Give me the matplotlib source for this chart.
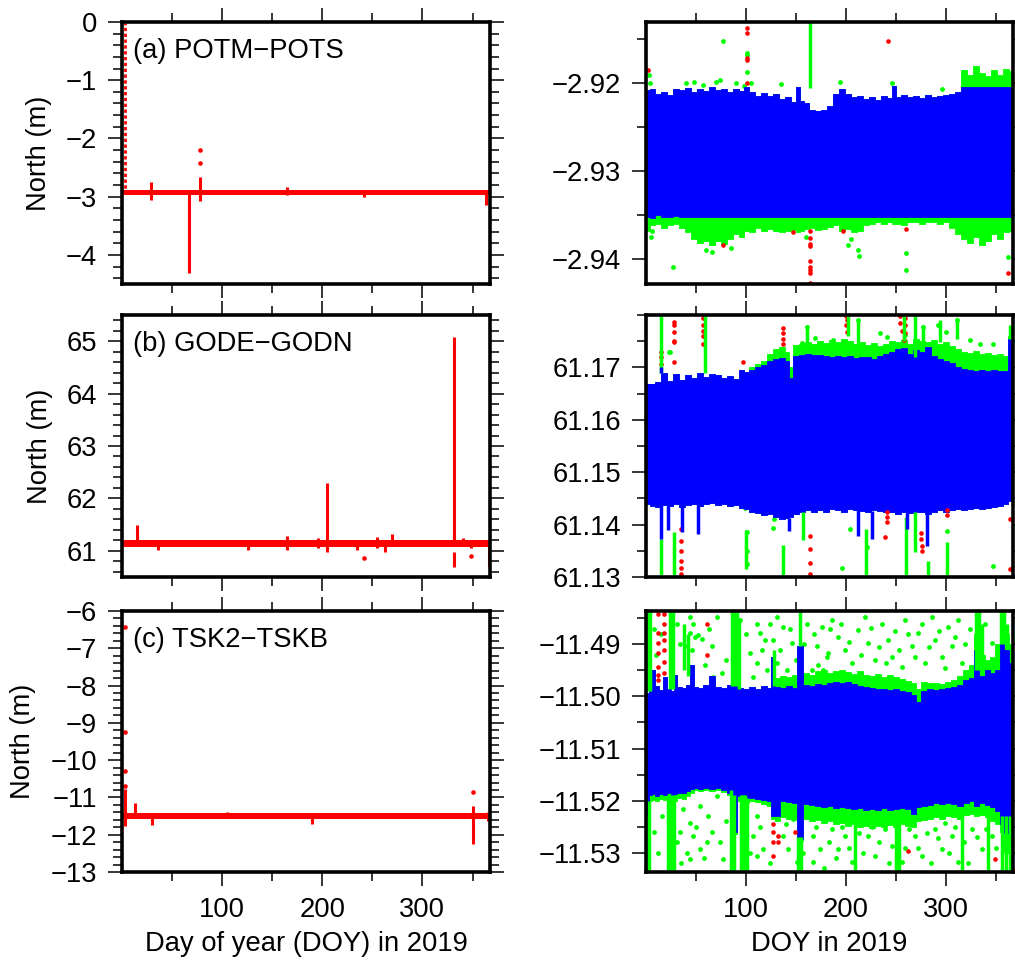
import matplotlib
matplotlib.use('Agg')
import matplotlib.pyplot as plt
from matplotlib.ticker import FixedLocator, FuncFormatter

plt.rcParams['font.family'] = ['Liberation Sans', 'DejaVu Sans']

RED = '#ff0000'
BLUE = '#0000ff'
GREEN = '#00ff00'
FS = 19.7

# ---------------- left column: full range (red) ----------------
span = [1, 366]

a_band = (-2.98, -2.89)
a_spikes = [(29, -3.06, -2.74), (67, -4.31, -2.93), (78, -3.08, -2.66),
            (165, -2.97, -2.84), (242, -3.0, -2.9), (363, -3.15, -2.9)]
a_columns = [(3, -2.95, -0.01)]
a_dots = [(78, -2.2), (78, -2.42)]

b_band = (61.07, 61.21)
b_spikes = [(15, 61.1, 61.49), (36, 61.02, 61.2), (126, 61.02, 61.2), (165, 61.02, 61.28),
            (196, 61.05, 61.25), (205, 60.98, 62.30), (235, 61.02, 61.18), (255, 61.05, 61.27),
            (263, 60.98, 61.2), (270, 61.1, 61.33), (332, 61.15, 65.08), (332, 60.69, 60.98),
            (340, 61.1, 61.25), (348, 61.05, 61.2), (366, 60.7, 61.2)]
b_columns = []
b_dots = [(242, 60.87), (348, 60.9)]

c_band = (-11.59, -11.41)
c_spikes = [(3, -11.77, -10.77), (13, -11.5, -11.16), (30, -11.75, -11.45), (105, -11.5, -11.38),
            (190, -11.7, -11.5), (350, -12.25, -11.23), (365, -11.62, -11.4)]
c_columns = []
c_dots = [(3, -6.43), (3, -9.25), (3, -10.3), (3, -10.7), (350, -10.85)]

# ---------------- right column: zoomed (blue / green / red) ----------------
tr_doy = [1, 6, 12, 18, 24, 30, 36, 42, 48, 54, 60, 66, 72, 78, 84, 90, 96, 101, 106, 112,
          118, 124, 130, 136, 142, 148, 152, 156, 161, 166, 172, 178, 184, 190, 196, 202, 208, 214, 220, 226,
          232, 238, 244, 248, 252, 258, 264, 270, 276, 282, 288, 294, 300, 306, 312, 318, 324, 330, 336, 342,
          348, 354, 360, 366]
tr_blue_top = [-2.9208, -2.9206, -2.9212, -2.9210, -2.9213, -2.9207, -2.9208, -2.9205, -2.9210, -2.9206,
               -2.9209, -2.9204, -2.9208, -2.9206, -2.9210, -2.9207, -2.9209, -2.9204, -2.9210, -2.9214,
               -2.9211, -2.9215, -2.9212, -2.9218, -2.9216, -2.9221, -2.9204, -2.9220, -2.9223, -2.9231,
               -2.9232, -2.9230, -2.9226, -2.9212, -2.9207, -2.9212, -2.9216, -2.9214, -2.9218, -2.9216,
               -2.9219, -2.9214, -2.9217, -2.9203, -2.9216, -2.9213, -2.9216, -2.9214, -2.9217, -2.9213,
               -2.9216, -2.9214, -2.9213, -2.9212, -2.9210, -2.9204, -2.9204, -2.9204, -2.9204, -2.9204,
               -2.9204, -2.9204, -2.9204, -2.9204]
tr_blue_bot = [-2.9352, -2.9354, -2.9350, -2.9352, -2.9353, -2.9351, -2.9353, -2.9352, -2.9353, -2.9352,
               -2.9353, -2.9352, -2.9353, -2.9352, -2.9352, -2.9353, -2.9352, -2.9352, -2.9353, -2.9352,
               -2.9352, -2.9353, -2.9352, -2.9352, -2.9353, -2.9352, -2.9352, -2.9353, -2.9352, -2.9353,
               -2.9352, -2.9353, -2.9352, -2.9352, -2.9353, -2.9352, -2.9352, -2.9353, -2.9352, -2.9352,
               -2.9352, -2.9353, -2.9352, -2.9352, -2.9352, -2.9353, -2.9352, -2.9352, -2.9352, -2.9353,
               -2.9352, -2.9352, -2.9352, -2.9352, -2.9353, -2.9352, -2.9352, -2.9352, -2.9352, -2.9352,
               -2.9352, -2.9352, -2.9352, -2.9352]
tr_green_top = [-2.9208, -2.9206, -2.9212, -2.9210, -2.9213, -2.9207, -2.9208, -2.9205, -2.9210, -2.9206,
                -2.9209, -2.9204, -2.9208, -2.9206, -2.9210, -2.9207, -2.9209, -2.9204, -2.9210, -2.9214,
                -2.9211, -2.9215, -2.9212, -2.9218, -2.9216, -2.9221, -2.9204, -2.9220, -2.9223, -2.9231,
                -2.9232, -2.9230, -2.9226, -2.9212, -2.9207, -2.9212, -2.9216, -2.9214, -2.9218, -2.9216,
                -2.9219, -2.9214, -2.9217, -2.9203, -2.9216, -2.9213, -2.9216, -2.9214, -2.9217, -2.9213,
                -2.9216, -2.9214, -2.9213, -2.9212, -2.9210, -2.9185, -2.9190, -2.9180, -2.9188, -2.9192,
                -2.9185, -2.9190, -2.9184, -2.9186]
tr_green_bot = [-2.9368, -2.9362, -2.9360, -2.9365, -2.9362, -2.9360, -2.9365, -2.9370, -2.9378, -2.9382,
                -2.9380, -2.9385, -2.9380, -2.9383, -2.9378, -2.9372, -2.9375, -2.9368, -2.9370, -2.9365,
                -2.9368, -2.9366, -2.9368, -2.9370, -2.9368, -2.9367, -2.9370, -2.9368, -2.9366, -2.9365,
                -2.9367, -2.9366, -2.9364, -2.9362, -2.9368, -2.9366, -2.9370, -2.9368, -2.9362, -2.9360,
                -2.9358, -2.9360, -2.9358, -2.9360, -2.9360, -2.9362, -2.9358, -2.9358, -2.9360, -2.9358,
                -2.9358, -2.9360, -2.9358, -2.9365, -2.9372, -2.9378, -2.9382, -2.9375, -2.9385, -2.9380,
                -2.9372, -2.9378, -2.9370, -2.9368]
tr_blue_cols = []
tr_green_cols = [(164, -2.9205, -2.9130)]
tr_green_pts = [(77, -2.9152), (101, -2.9165), (101, -2.9168), (101, -2.9187), (27, -2.9410), (260, -2.9394),
                (260, -2.9413), (212, -2.9390), (213, -2.9397), (202, -2.9384), (362, -2.9398), (6, -2.9369),
                (296, -2.9206), (194, -2.9198), (246, -2.9200), (3, -2.9190), (4, -2.9200), (40, -2.9200),
                (48, -2.9198), (57, -2.9202), (70, -2.9199), (74, -2.9196), (90, -2.9200), (98, -2.9203),
                (105, -2.9200), (135, -2.9201), (5, -2.9375), (66, -2.9392), (60, -2.9390), (85, -2.9388),
                (160, -2.9375), (205, -2.9378)]
tr_red_pts = [(101, -2.9137), (101, -2.9143), (101, -2.9171), (101, -2.9173), (101, -2.9200), (242, -2.9152),
              (2, -2.9185), (77, -2.9384), (147, -2.9370), (164, -2.9368), (164, -2.9377), (164, -2.9383),
              (164, -2.9386), (164, -2.9403), (164, -2.9410), (164, -2.9413), (164, -2.9417), (164, -2.9428),
              (197, -2.9369), (362, -2.9417), (260, -2.9366)]

mr_doy = [1, 6, 12, 18, 24, 30, 36, 42, 48, 54, 60, 66, 72, 78, 84, 90, 96, 101, 106, 112,
          118, 124, 130, 136, 142, 145, 150, 156, 162, 168, 174, 180, 186, 192, 198, 204, 210, 216, 222, 228,
          234, 240, 246, 252, 258, 264, 270, 276, 282, 288, 294, 300, 306, 312, 318, 324, 330, 336, 342, 348,
          354, 360, 364, 366]
mr_blue_top = [61.1668, 61.1669, 61.1672, 61.1690, 61.1675, 61.1688, 61.1676, 61.1686, 61.1680, 61.1690,
               61.1682, 61.1687, 61.1685, 61.1680, 61.1684, 61.1678, 61.1695, 61.1692, 61.1696, 61.1700,
               61.1704, 61.1712, 61.1716, 61.1717, 61.1712, 61.1680, 61.1722, 61.1723, 61.1725, 61.1724,
               61.1723, 61.1722, 61.1720, 61.1722, 61.1720, 61.1721, 61.1718, 61.1720, 61.1719, 61.1716,
               61.1722, 61.1725, 61.1730, 61.1735, 61.1737, 61.1725, 61.1733, 61.1730, 61.1738, 61.1722,
               61.1716, 61.1712, 61.1708, 61.1700, 61.1697, 61.1695, 61.1694, 61.1695, 61.1694, 61.1695,
               61.1693, 61.1694, 61.1755, 61.1694]
mr_blue_bot = [61.1440, 61.1436, 61.1434, 61.1438, 61.1436, 61.1440, 61.1434, 61.1438, 61.1440, 61.1436,
               61.1440, 61.1441, 61.1438, 61.1440, 61.1436, 61.1438, 61.1432, 61.1430, 61.1425, 61.1422,
               61.1418, 61.1420, 61.1414, 61.1410, 61.1412, 61.1415, 61.1420, 61.1425, 61.1428, 61.1425,
               61.1428, 61.1425, 61.1430, 61.1428, 61.1425, 61.1430, 61.1428, 61.1426, 61.1424, 61.1428,
               61.1426, 61.1424, 61.1425, 61.1420, 61.1425, 61.1422, 61.1425, 61.1424, 61.1420, 61.1425,
               61.1428, 61.1425, 61.1428, 61.1430, 61.1428, 61.1430, 61.1432, 61.1430, 61.1432, 61.1434,
               61.1436, 61.1440, 61.1445, 61.1445]
mr_green_top = [61.1668, 61.1669, 61.1672, 61.1690, 61.1675, 61.1688, 61.1676, 61.1686, 61.1680, 61.1690,
                61.1682, 61.1687, 61.1685, 61.1680, 61.1684, 61.1678, 61.1695, 61.1692, 61.1700, 61.1706,
                61.1712, 61.1725, 61.1735, 61.1738, 61.1730, 61.1700, 61.1742, 61.1745, 61.1748, 61.1744,
                61.1750, 61.1746, 61.1752, 61.1748, 61.1755, 61.1750, 61.1745, 61.1748, 61.1742, 61.1746,
                61.1740, 61.1745, 61.1750, 61.1748, 61.1752, 61.1745, 61.1755, 61.1750, 61.1748, 61.1752,
                61.1745, 61.1748, 61.1740, 61.1735, 61.1730, 61.1728, 61.1732, 61.1725, 61.1728, 61.1724,
                61.1726, 61.1722, 61.1760, 61.1720]
mr_green_bot = mr_blue_bot
mr_blue_cols = [(15, 61.1372, 61.1440), (22, 61.1390, 61.1436), (36, 61.1385, 61.1434), (52, 61.1382, 61.1440),
                (143, 61.1387, 61.1412), (212, 61.1379, 61.1428), (226, 61.1372, 61.1426), (261, 61.1391, 61.1425),
                (281, 61.1360, 61.1420), (15, 61.1690, 61.1700)]
mr_green_cols = [(15, 61.1300, 61.1372), (15, 61.1690, 61.1800), (28, 61.1300, 61.1385), (59, 61.1690, 61.1800),
                 (100, 61.1315, 61.1390), (137, 61.1300, 61.1362), (157, 61.1370, 61.1425), (161, 61.1749, 61.1780),
                 (202, 61.1760, 61.1800), (212, 61.1742, 61.1793), (220, 61.1300, 61.1392), (258, 61.1750, 61.1800),
                 (260, 61.1300, 61.1415), (269, 61.1720, 61.1800), (269, 61.1347, 61.1425), (277, 61.1749, 61.1780),
                 (282, 61.1300, 61.1330), (294, 61.1749, 61.1790), (301, 61.1300, 61.1366), (311, 61.1755, 61.1794),
                 (364, 61.1755, 61.1780)]
mr_green_pts = [(24, 61.1729), (23, 61.1730), (99, 61.1432), (101, 61.1385), (101, 61.1350), (101, 61.1325),
                (127, 61.1394), (128, 61.1410), (196, 61.1318), (204, 61.1391), (221, 61.1357), (347, 61.1322),
                (301, 61.1388), (156, 61.1747), (149, 61.1713), (161, 61.1778), (169, 61.1756), (234, 61.1765),
                (311, 61.1790), (292, 61.1780), (277, 61.1778), (324, 61.1752), (334, 61.1745), (347, 61.1745),
                (366, 61.1766), (187, 61.1752), (212, 61.1790), (241, 61.1758), (300, 61.1768), (259, 61.1762)]
mr_red_pts = [(28, 61.1786), (28, 61.1780), (28, 61.1767), (28, 61.1751), (28, 61.1748), (28, 61.1710),
              (15, 61.1729), (15, 61.1720), (15, 61.1706),
              (57, 61.1795), (57, 61.1780), (57, 61.1770), (57, 61.1760), (57, 61.1745),
              (35, 61.1391), (35, 61.1369), (35, 61.1350), (35, 61.1331), (35, 61.1318), (35, 61.1305),
              (137, 61.1775), (137, 61.1765), (137, 61.1755), (137, 61.1745), (97, 61.1710),
              (164, 61.1378), (164, 61.1353), (164, 61.1327), (164, 61.1305),
              (200, 61.1799), (201, 61.1790), (200, 61.1780), (201, 61.1768),
              (254, 61.1798), (254, 61.1785), (256, 61.1770), (259, 61.1795), (259, 61.1780), (259, 61.1765),
              (258, 61.1752), (239, 61.1376), (241, 61.1425), (241, 61.1415), (241, 61.1405),
              (275, 61.1384), (275, 61.1372), (276, 61.1360), (276, 61.1350), (301, 61.1428), (301, 61.1418),
              (364, 61.1410), (364, 61.1316)]

br_doy = [1, 4, 7, 11, 15, 19, 23, 27, 29, 33, 38, 43, 46, 50, 55, 60, 66, 72, 78, 84,
          89, 94, 100, 106, 112, 118, 124, 127, 131, 137, 143, 149, 154, 160, 166, 172, 178, 184, 190, 196,
          202, 208, 214, 220, 226, 232, 238, 244, 250, 256, 262, 268, 272, 278, 284, 290, 296, 302, 308, 314,
          320, 326, 331, 336, 342, 347, 352, 356, 361, 366]
br_blue_top = [-11.4994, -11.4990, -11.4949, -11.4980, -11.4987, -11.4962, -11.4985, -11.4990, -11.4959, -11.4981,
               -11.4984, -11.4978, -11.4940, -11.4982, -11.4984, -11.4978, -11.4960, -11.4981, -11.4984, -11.4978,
               -11.4898, -11.4984, -11.4986, -11.4982, -11.4985, -11.4980, -11.4984, -11.4924, -11.4982, -11.4984,
               -11.4980, -11.4983, -11.4904, -11.4978, -11.4980, -11.4976, -11.4978, -11.4975, -11.4972, -11.4974,
               -11.4972, -11.4976, -11.4980, -11.4982, -11.4984, -11.4986, -11.4985, -11.4988, -11.4986, -11.4990,
               -11.4992, -11.4998, -11.5010, -11.4990, -11.4986, -11.4988, -11.4985, -11.4984, -11.4982, -11.4978,
               -11.4968, -11.4965, -11.4911, -11.4960, -11.4950, -11.4955, -11.4950, -11.4892, -11.4910, -11.4936]
br_blue_bot = [-11.5229, -11.5190, -11.5188, -11.5192, -11.5188, -11.5190, -11.5186, -11.5190, -11.5188, -11.5185,
               -11.5186, -11.5182, -11.5178, -11.5176, -11.5178, -11.5175, -11.5178, -11.5176, -11.5180, -11.5185,
               -11.5261, -11.5192, -11.5195, -11.5194, -11.5196, -11.5198, -11.5200, -11.5229, -11.5230, -11.5200,
               -11.5202, -11.5204, -11.5274, -11.5206, -11.5208, -11.5210, -11.5212, -11.5210, -11.5214, -11.5212,
               -11.5215, -11.5216, -11.5214, -11.5218, -11.5216, -11.5218, -11.5215, -11.5218, -11.5216, -11.5214,
               -11.5216, -11.5225, -11.5212, -11.5210, -11.5208, -11.5205, -11.5206, -11.5204, -11.5206, -11.5210,
               -11.5205, -11.5200, -11.5210, -11.5204, -11.5208, -11.5212, -11.5220, -11.5245, -11.5262, -11.5240]
br_green_top = [-11.4994, -11.4990, -11.4949, -11.4980, -11.4987, -11.4962, -11.4985, -11.4990, -11.4959, -11.4981,
                -11.4984, -11.4978, -11.4940, -11.4982, -11.4984, -11.4978, -11.4960, -11.4981, -11.4984, -11.4978,
                -11.4898, -11.4984, -11.4986, -11.4982, -11.4985, -11.4980, -11.4984, -11.4924, -11.4965, -11.4960,
                -11.4962, -11.4958, -11.4904, -11.4955, -11.4958, -11.4952, -11.4950, -11.4955, -11.4952, -11.4950,
                -11.4954, -11.4956, -11.4952, -11.4958, -11.4960, -11.4956, -11.4962, -11.4958, -11.4962, -11.4966,
                -11.4970, -11.4975, -11.4985, -11.4972, -11.4975, -11.4974, -11.4976, -11.4972, -11.4968, -11.4960,
                -11.4950, -11.4940, -11.4880, -11.4920, -11.4930, -11.4925, -11.4900, -11.4870, -11.4880, -11.4900]
br_green_bot = [-11.5240, -11.5200, -11.5198, -11.5200, -11.5196, -11.5198, -11.5200, -11.5205, -11.5200, -11.5195,
                -11.5196, -11.5192, -11.5185, -11.5180, -11.5182, -11.5180, -11.5182, -11.5180, -11.5184, -11.5190,
                -11.5265, -11.5200, -11.5205, -11.5200, -11.5202, -11.5206, -11.5210, -11.5235, -11.5240, -11.5232,
                -11.5235, -11.5238, -11.5278, -11.5236, -11.5240, -11.5238, -11.5242, -11.5240, -11.5245, -11.5242,
                -11.5248, -11.5245, -11.5250, -11.5248, -11.5252, -11.5248, -11.5250, -11.5246, -11.5250, -11.5245,
                -11.5248, -11.5250, -11.5240, -11.5238, -11.5236, -11.5232, -11.5235, -11.5230, -11.5232, -11.5235,
                -11.5228, -11.5225, -11.5230, -11.5228, -11.5232, -11.5240, -11.5245, -11.5260, -11.5300, -11.5300]
br_blue_cols = []
br_green_cols = [(2, -11.4990, -11.4836), (4, -11.4990, -11.4836), (24, -11.4985, -11.4836), (27, -11.4985, -11.4836),
                 (38, -11.4950, -11.4860), (42, -11.4960, -11.4880), (86, -11.4980, -11.4836), (88, -11.4980, -11.4836),
                 (91, -11.4980, -11.4836), (93, -11.4985, -11.4850), (128, -11.4980, -11.4911), (154, -11.4904, -11.4836),
                 (330, -11.4950, -11.4836), (333, -11.4950, -11.4836), (336, -11.4940, -11.4860), (355, -11.4900, -11.4836),
                 (358, -11.4900, -11.4836), (361, -11.4900, -11.4860),
                 (1, -11.5340, -11.5229), (3, -11.5340, -11.5200), (22, -11.5340, -11.5190), (25, -11.5340, -11.5190),
                 (28, -11.5340, -11.5190), (85, -11.5340, -11.5180), (88, -11.5340, -11.5190), (95, -11.5340, -11.5190),
                 (97, -11.5340, -11.5190), (99, -11.5340, -11.5190), (101, -11.5340, -11.5195), (152, -11.5340, -11.5270),
                 (155, -11.5340, -11.5270), (209, -11.5340, -11.5230), (250, -11.5340, -11.5230), (253, -11.5340, -11.5230),
                 (316, -11.5340, -11.5220), (342, -11.5340, -11.5220), (356, -11.5340, -11.5230), (360, -11.5340, -11.5230),
                 (364, -11.5340, -11.5230)]
br_green_pts = [(44, -11.4847), (47, -11.4860), (44, -11.4879), (49, -11.4885), (41, -11.4904), (46, -11.4911),
                (52, -11.4882), (71, -11.4847), (66, -11.4904), (76, -11.4955), (67, -11.4962), (94, -11.4854),
                (111, -11.4860), (114, -11.4879), (119, -11.4892), (131, -11.4847), (137, -11.4866), (127, -11.4892),
                (134, -11.4911), (146, -11.4898), (161, -11.4860), (171, -11.4904), (176, -11.4866), (181, -11.4924),
                (177, -11.4949), (166, -11.4949), (111, -11.4936), (107, -11.4962), (121, -11.4949), (104, -11.4917),
                (131, -11.4936), (141, -11.4949),
                (8, -11.4870), (10, -11.4920), (15, -11.4880), (31, -11.4860), (34, -11.4900), (56, -11.4890),
                (59, -11.4940), (63, -11.4870), (80, -11.4930), (100, -11.4880), (116, -11.4910), (124, -11.4860),
                (144, -11.4870), (150, -11.4930), (158, -11.4900), (168, -11.4880), (172, -11.4940),
                (37, -11.5216), (44, -11.5242), (34, -11.5261), (31, -11.5280), (47, -11.5268), (54, -11.5210),
                (62, -11.5229), (61, -11.5280), (54, -11.5293), (44, -11.5312), (41, -11.5300), (71, -11.5191),
                (74, -11.5280), (77, -11.5312), (111, -11.5229), (107, -11.5268), (111, -11.5306), (121, -11.5204),
                (117, -11.5293), (137, -11.5268), (147, -11.5236), (161, -11.5229), (167, -11.5268), (174, -11.5293),
                (181, -11.5216), (151, -11.5318), (167, -11.5318), (127, -11.5204), (134, -11.5216), (142, -11.5293),
                (8, -11.5260), (12, -11.5300), (16, -11.5230), (35, -11.5320), (50, -11.5250), (58, -11.5310),
                (66, -11.5260), (80, -11.5240), (104, -11.5300), (114, -11.5250), (124, -11.5320), (140, -11.5245),
                (157, -11.5300), (170, -11.5250), (178, -11.5330),
                (186, -11.4854), (192, -11.4885), (199, -11.4911), (212, -11.4873), (219, -11.4847), (222, -11.4898),
                (229, -11.4930), (236, -11.4860), (242, -11.4892), (246, -11.4924), (259, -11.4854), (266, -11.4904),
                (272, -11.4879), (279, -11.4936), (286, -11.4847), (289, -11.4892), (296, -11.4924), (302, -11.4866),
                (306, -11.4904), (312, -11.4854), (316, -11.4936), (339, -11.4860), (346, -11.4898), (182, -11.4917),
                (206, -11.4936), (256, -11.4943),
                (184, -11.4870), (195, -11.4860), (203, -11.4895), (215, -11.4920), (225, -11.4868), (233, -11.4905),
                (240, -11.4935), (249, -11.4875), (253, -11.4910), (262, -11.4880), (269, -11.4925), (276, -11.4860),
                (283, -11.4905), (293, -11.4875), (299, -11.4945), (309, -11.4885), (319, -11.4900), (324, -11.4870),
                (186, -11.5255), (192, -11.5293), (199, -11.5268), (206, -11.5318), (222, -11.5268), (229, -11.5306),
                (239, -11.5255), (246, -11.5287), (256, -11.5318), (269, -11.5268), (276, -11.5306), (289, -11.5255),
                (296, -11.5293), (306, -11.5268), (312, -11.5318), (326, -11.5255), (336, -11.5293), (346, -11.5268),
                (219, -11.5236), (266, -11.5229), (299, -11.5242),
                (183, -11.5280), (190, -11.5310), (196, -11.5250), (203, -11.5290), (213, -11.5262), (217, -11.5300),
                (226, -11.5250), (233, -11.5280), (243, -11.5320), (251, -11.5265), (259, -11.5290), (263, -11.5255),
                (272, -11.5290), (281, -11.5262), (285, -11.5320), (292, -11.5272), (303, -11.5300), (309, -11.5250),
                (318, -11.5280), (322, -11.5320), (331, -11.5270), (340, -11.5255), (350, -11.5290)]
br_red_pts = [(12, -11.4841), (12, -11.4879), (12, -11.4898), (12, -11.4917), (12, -11.4943), (12, -11.4958),
              (12, -11.4968), (18, -11.4841), (18, -11.4860), (18, -11.4879), (18, -11.4892), (18, -11.4911),
              (18, -11.4934), (18, -11.4955), (26, -11.4847), (26, -11.4860), (61, -11.4860), (61, -11.4921),
              (27, -11.5210), (27, -11.5229), (27, -11.5255), (27, -11.5306), (27, -11.5315), (27, -11.5331),
              (127, -11.5245), (127, -11.5261), (127, -11.5280), (127, -11.5306), (132, -11.5268), (132, -11.5280),
              (149, -11.5261), (262, -11.5296), (349, -11.5312)]

left_rows = [
    ('(a) POTM\u2212POTS', a_band, a_spikes, a_columns, a_dots, (-4.5, 0.0), [0, -1, -2, -3, -4]),
    ('(b) GODE\u2212GODN', b_band, b_spikes, b_columns, b_dots, (60.5, 65.5), [61, 62, 63, 64, 65]),
    ('(c) TSK2\u2212TSKB', c_band, c_spikes, c_columns, c_dots, (-13.0, -6.0), [-6, -7, -8, -9, -10, -11, -12, -13]),
]
right_rows = [
    (tr_doy, tr_blue_top, tr_blue_bot, tr_green_top, tr_green_bot, tr_blue_cols, tr_green_cols,
     tr_green_pts, tr_red_pts, (-2.9429, -2.9130), [-2.94, -2.93, -2.92]),
    (mr_doy, mr_blue_top, mr_blue_bot, mr_green_top, mr_green_bot, mr_blue_cols, mr_green_cols,
     mr_green_pts, mr_red_pts, (61.13, 61.18), [61.13, 61.14, 61.15, 61.16, 61.17]),
    (br_doy, br_blue_top, br_blue_bot, br_green_top, br_green_bot, br_blue_cols, br_green_cols,
     br_green_pts, br_red_pts, (-11.5337, -11.4836), [-11.53, -11.52, -11.51, -11.50, -11.49]),
]


def minus(s):
    return s.replace('-', '\u2212')


def style(ax, ylim, yticks, minor_step, fmt):
    ax.set_xlim(0, 367.5)
    ax.set_ylim(*ylim)
    ax.xaxis.set_major_locator(FixedLocator([100, 200, 300]))
    ax.xaxis.set_minor_locator(FixedLocator([50, 150, 250, 350]))
    ax.yaxis.set_major_locator(FixedLocator(yticks))
    lo, hi = min(ylim), max(ylim)
    start = round(lo / minor_step)
    stop = round(hi / minor_step)
    ax.yaxis.set_minor_locator(FixedLocator([k * minor_step for k in range(start, stop + 1)]))
    ax.yaxis.set_major_formatter(FuncFormatter(lambda v, p: minus(fmt % v)))
    for s in ax.spines.values():
        s.set_linewidth(2.6)
    ax.tick_params(which='both', direction='out', top=True, right=True, width=1.1,
                   labelsize=FS, pad=8, colors='black')
    ax.tick_params(which='major', length=10)
    ax.tick_params(which='minor', length=6.5)


def band(ax, x, lo, hi, color):
    # plain block over the common core, stepped fill for the ragged edges
    ax.fill_between([x[0], x[-1]], max(lo), min(hi), color=color, lw=0)
    ax.fill_between(x, lo, hi, step='mid', color=color, lw=0.6, edgecolor=color)


fig = plt.figure(figsize=(10.15, 9.63), dpi=100)
bottoms = [0.7051, 0.4008, 0.0945]
heights = [0.2721, 0.2721, 0.2710]

for i, (label, rband, spikes, columns, dots, ylim, yticks) in enumerate(left_rows):
    ax = fig.add_axes([0.1202, bottoms[i], 0.3626, heights[i]])
    ax.fill_between(span, rband[0], rband[1], color=RED, lw=0)
    ax.vlines([s[0] for s in spikes], [s[1] for s in spikes], [s[2] for s in spikes],
              color=RED, lw=2.2)
    if columns:
        ax.vlines([c[0] for c in columns], [c[1] for c in columns], [c[2] for c in columns],
                  color=RED, lw=2.0, linestyles=(0, (1.2, 0.9)))
    ax.scatter([d[0] for d in dots], [d[1] for d in dots], s=11, color=RED, lw=0)
    style(ax, ylim, yticks, 0.2, '%d')
    ax.set_ylabel('North (m)', fontsize=FS, labelpad=10)
    ax.text(0.03, 0.89, label, transform=ax.transAxes, fontsize=FS, va='center', ha='left')
    if i < 2:
        ax.tick_params(labelbottom=False)
    else:
        ax.set_xlabel('Day of year (DOY) in 2019', fontsize=FS, labelpad=6)

for i, row in enumerate(right_rows):
    doy, btop, bbot, gtop, gbot, bcols, gcols, gpts, rpts, ylim, yticks = row
    ax = fig.add_axes([0.6365, bottoms[i], 0.3616, heights[i]])
    ax.fill_between(doy, gbot, gtop, step='mid', color=GREEN, lw=0.6, edgecolor=GREEN)
    if gcols:
        ax.vlines([c[0] for c in gcols], [c[1] for c in gcols], [c[2] for c in gcols],
                  color=GREEN, lw=2.5)
    ax.scatter([p[0] for p in gpts], [p[1] for p in gpts], s=12, color=GREEN, lw=0)
    band(ax, doy, bbot, btop, BLUE)
    if bcols:
        ax.vlines([c[0] for c in bcols], [c[1] for c in bcols], [c[2] for c in bcols],
                  color=BLUE, lw=2.5)
    ax.scatter([p[0] for p in rpts], [p[1] for p in rpts], s=11, color=RED, lw=0)
    style(ax, ylim, yticks, 0.005, '%.2f')
    if i < 2:
        ax.tick_params(labelbottom=False)
    else:
        ax.set_xlabel('DOY in 2019', fontsize=FS, labelpad=6)

fig.savefig('out.png', dpi=100)
